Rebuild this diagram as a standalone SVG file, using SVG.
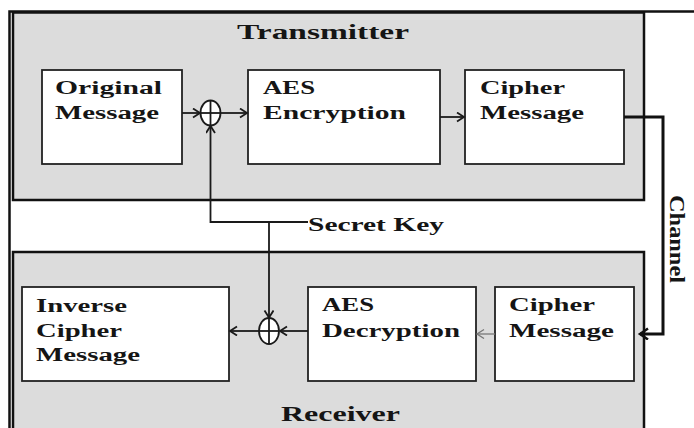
<svg xmlns="http://www.w3.org/2000/svg" width="694" height="428" viewBox="0 0 694 428">
  <style>
    .frame { fill: none; stroke: #111; stroke-width: 2.5; }
    .panel { fill: #dcdcdc; stroke: #111; stroke-width: 2.5; }
    .box { fill: #fff; stroke: #222; stroke-width: 1.8; }
    .wire { fill: none; stroke: #1a1a1a; stroke-width: 1.8; }
    .thick { fill: none; stroke: #111; stroke-width: 3; }
    .faint { fill: none; stroke: #777; stroke-width: 1.3; }
    .xor { fill: #fff; stroke: #1a1a1a; stroke-width: 1.8; }
    text { font-family: "Liberation Serif", "Times New Roman", serif; font-weight: bold; fill: #151515; }
    .lbl { font-size: 18px; }
    .title { font-size: 21px; }
  </style>
  <defs>
    <marker id="arrow" markerUnits="userSpaceOnUse" markerWidth="10" markerHeight="12" refX="8" refY="5" orient="auto">
      <path d="M1,0.5 L8,5 L1,9.5" fill="none" stroke="#1a1a1a" stroke-width="1.8"/>
    </marker>
    <marker id="arrowFaint" markerUnits="userSpaceOnUse" markerWidth="10" markerHeight="12" refX="8" refY="5" orient="auto">
      <path d="M1,0.5 L8,5 L1,9.5" fill="none" stroke="#777" stroke-width="1.3"/>
    </marker>
    <marker id="arrowThick" markerUnits="userSpaceOnUse" markerWidth="12" markerHeight="14" refX="9" refY="6" orient="auto">
      <path d="M1,0.5 L9,6 L1,11.5" fill="none" stroke="#111" stroke-width="2.5"/>
    </marker>
  </defs>

  <!-- outer frame -->
  <rect class="frame" x="9.5" y="11.5" width="700" height="430"/>

  <!-- transmitter panel -->
  <g id="transmitter">
    <rect class="panel" x="13" y="12.5" width="631" height="187.5"/>
    <text class="title" x="237" y="39" textLength="172" lengthAdjust="spacingAndGlyphs">Transmitter</text>
  </g>

  <!-- receiver panel -->
  <g id="receiver">
    <rect class="panel" x="13" y="252" width="631" height="200"/>
    <text class="title" x="281" y="421" textLength="119" lengthAdjust="spacingAndGlyphs">Receiver</text>
  </g>

  <g id="original-message">
    <rect class="box" x="42" y="70" width="140" height="94"/>
    <text class="lbl" x="55" y="94" textLength="107" lengthAdjust="spacingAndGlyphs">Original</text>
    <text class="lbl" x="55" y="119" textLength="104" lengthAdjust="spacingAndGlyphs">Message</text>
  </g>

  <g id="aes-encryption">
    <rect class="box" x="248" y="70" width="192" height="94"/>
    <text class="lbl" x="263" y="94" textLength="52" lengthAdjust="spacingAndGlyphs">AES</text>
    <text class="lbl" x="263" y="119" textLength="143" lengthAdjust="spacingAndGlyphs">Encryption</text>
  </g>

  <g id="cipher-message-tx">
    <rect class="box" x="465" y="70" width="159" height="94"/>
    <text class="lbl" x="480" y="94" textLength="85" lengthAdjust="spacingAndGlyphs">Cipher</text>
    <text class="lbl" x="480" y="119" textLength="104" lengthAdjust="spacingAndGlyphs">Message</text>
  </g>

  <g id="xor-tx">
    <ellipse class="xor" cx="210.5" cy="113" rx="10" ry="12.5"/>
    <line class="wire" x1="200.5" y1="113" x2="220.5" y2="113"/>
    <line class="wire" x1="210.5" y1="100.5" x2="210.5" y2="125.5"/>
  </g>

  <g id="inverse-cipher-message">
    <rect class="box" x="22" y="287" width="207" height="94"/>
    <text class="lbl" x="36" y="312" textLength="91" lengthAdjust="spacingAndGlyphs">Inverse</text>
    <text class="lbl" x="36" y="337" textLength="86" lengthAdjust="spacingAndGlyphs">Cipher</text>
    <text class="lbl" x="36" y="361" textLength="104" lengthAdjust="spacingAndGlyphs">Message</text>
  </g>

  <g id="aes-decryption">
    <rect class="box" x="308" y="287" width="168" height="94"/>
    <text class="lbl" x="322" y="311" textLength="52" lengthAdjust="spacingAndGlyphs">AES</text>
    <text class="lbl" x="322" y="337" textLength="138" lengthAdjust="spacingAndGlyphs">Decryption</text>
  </g>

  <g id="cipher-message-rx">
    <rect class="box" x="495" y="287" width="139" height="94"/>
    <text class="lbl" x="509" y="311" textLength="86" lengthAdjust="spacingAndGlyphs">Cipher</text>
    <text class="lbl" x="509" y="337" textLength="105" lengthAdjust="spacingAndGlyphs">Message</text>
  </g>

  <g id="xor-rx">
    <ellipse class="xor" cx="269" cy="331" rx="10" ry="13"/>
    <line class="wire" x1="259" y1="331" x2="279" y2="331"/>
    <line class="wire" x1="269" y1="318" x2="269" y2="344"/>
  </g>

  <g id="secret-key">
    <text class="lbl" x="308" y="231" textLength="136" lengthAdjust="spacingAndGlyphs">Secret Key</text>
  </g>

  <g id="channel-label">
    <text class="title" transform="translate(670,195) rotate(90)" font-size="19" textLength="88" lengthAdjust="spacingAndGlyphs">Channel</text>
  </g>

  <!-- connectors -->
  <g id="connectors">
    <line class="wire" x1="182" y1="113" x2="200" y2="113" marker-end="url(#arrow)"/>
    <line class="wire" x1="220.5" y1="113" x2="247" y2="113" marker-end="url(#arrow)"/>
    <line class="wire" x1="440" y1="117" x2="464" y2="117" marker-end="url(#arrow)"/>
    <path class="wire" d="M308,222 H210.5 V126" marker-end="url(#arrow)"/>
    <line class="wire" x1="269" y1="222" x2="269" y2="317.5" marker-end="url(#arrow)"/>
    <path class="thick" d="M624,117 H663 V334 H640" marker-end="url(#arrowThick)"/>
    <line class="faint" x1="495" y1="334" x2="477" y2="334" marker-end="url(#arrowFaint)"/>
    <line class="wire" x1="308" y1="331" x2="280" y2="331" marker-end="url(#arrow)"/>
    <line class="wire" x1="259" y1="331" x2="230" y2="331" marker-end="url(#arrow)"/>
  </g>
</svg>
